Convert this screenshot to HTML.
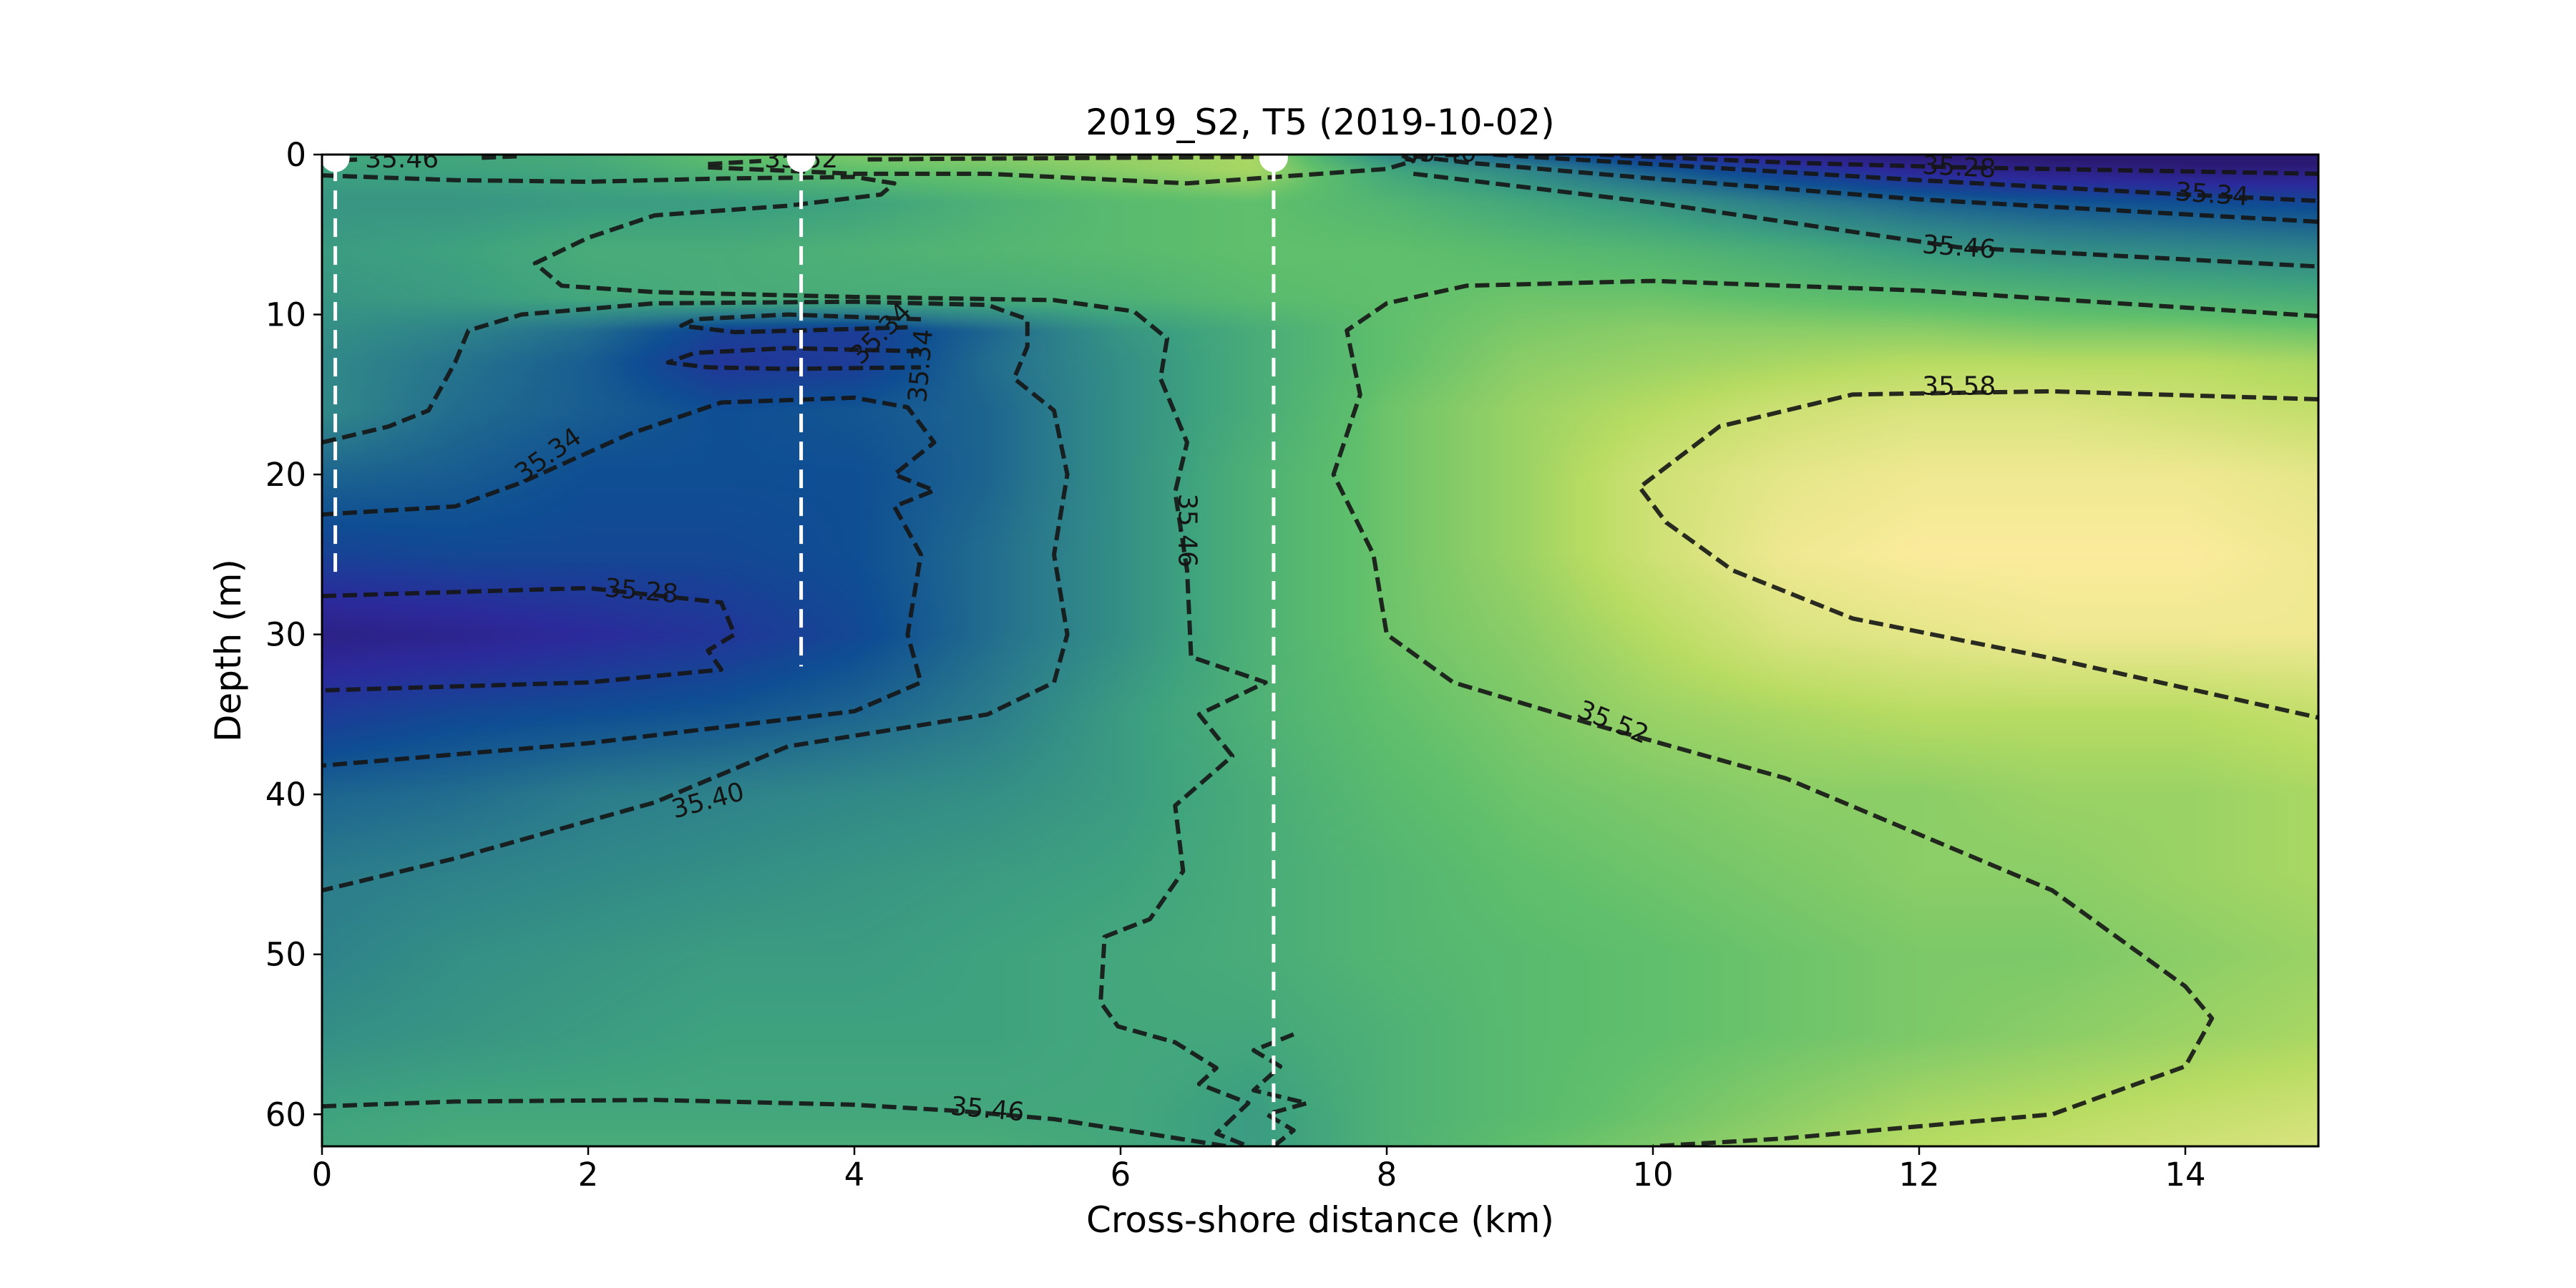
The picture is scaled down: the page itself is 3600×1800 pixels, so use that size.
<!DOCTYPE html>
<html><head><meta charset="utf-8"><style>
html,body{margin:0;padding:0;background:#fff;}
#wrap{position:relative;width:3600px;height:1800px;font-family:"DejaVu Sans","Liberation Sans",sans-serif;}
canvas{position:absolute;left:450px;top:216px;width:2790px;height:1386px;}
svg{position:absolute;left:0;top:0;}
</style></head><body>
<div id="wrap">
<canvas id="heat" width="300" height="248"></canvas>
<svg id="svg" width="3600" height="1800"></svg>
</div>
<script>
const xsKm=[0,1,2,3,4,5,6,7,8,9,10,11,12,13,14,15];
const depths=[0,1,3,6,9,11,13,16,20,25,30,35,40,45,50,55,60,62];
const salinity=[
[35.47,35.47,35.48,35.52,35.54,35.55,35.56,35.57,35.42,35.36,35.30,35.25,35.22,35.21,35.20,35.20],
[35.46,35.46,35.47,35.50,35.52,35.53,35.55,35.57,35.47,35.42,35.36,35.31,35.27,35.25,35.24,35.24],
[35.44,35.44,35.45,35.45,35.46,35.49,35.51,35.52,35.50,35.47,35.44,35.40,35.37,35.35,35.34,35.33],
[35.45,35.46,35.48,35.48,35.49,35.50,35.51,35.52,35.52,35.51,35.50,35.48,35.45,35.43,35.42,35.41],
[35.44,35.45,35.47,35.48,35.48,35.48,35.49,35.51,35.52,35.53,35.53,35.52,35.51,35.50,35.49,35.48],
[35.43,35.41,35.38,35.32,35.31,35.37,35.44,35.48,35.52,35.54,35.55,35.55,35.55,35.54,35.54,35.53],
[35.42,35.39,35.36,35.30,35.31,35.38,35.43,35.48,35.52,35.55,35.56,35.57,35.58,35.58,35.58,35.57],
[35.42,35.38,35.36,35.34,35.35,35.37,35.43,35.48,35.53,35.56,35.58,35.60,35.61,35.61,35.60,35.59],
[35.37,35.36,35.34,35.34,35.34,35.37,35.43,35.49,35.53,35.56,35.60,35.62,35.63,35.63,35.63,35.62],
[35.32,35.33,35.33,35.33,35.34,35.38,35.43,35.49,35.53,35.56,35.60,35.63,35.64,35.64,35.64,35.63],
[35.25,35.26,35.28,35.30,35.33,35.38,35.43,35.49,35.53,35.55,35.58,35.61,35.62,35.63,35.63,35.63],
[35.31,35.33,35.34,35.35,35.37,35.40,35.45,35.49,35.52,35.54,35.56,35.57,35.58,35.58,35.58,35.59],
[35.37,35.38,35.40,35.41,35.42,35.43,35.45,35.48,35.51,35.53,35.54,35.55,35.55,35.56,35.56,35.57],
[35.40,35.41,35.42,35.43,35.44,35.45,35.46,35.48,35.50,35.52,35.53,35.54,35.55,35.55,35.56,35.57],
[35.41,35.43,35.44,35.45,35.45,35.46,35.47,35.48,35.50,35.51,35.52,35.53,35.54,35.54,35.55,35.56],
[35.43,35.44,35.45,35.46,35.46,35.46,35.47,35.47,35.49,35.51,35.52,35.53,35.54,35.55,35.56,35.57],
[35.46,35.47,35.47,35.47,35.47,35.47,35.47,35.45,35.49,35.51,35.53,35.55,35.57,35.58,35.59,35.60],
[35.47,35.48,35.48,35.48,35.48,35.48,35.47,35.45,35.49,35.52,35.54,35.56,35.58,35.59,35.60,35.61]];
const xTicks=[0,2,4,6,8,10,12,14];
const yTicks=[0,10,20,30,40,50,60];
const stationX=[0.1,3.6,7.15];
const stationBottom=[26.5,32,62];
const contours=[
 {lvl:"35.46",pts:[[0,1.3],[1,1.6],[2,1.7],[3,1.5],[4,1.4],[4.3,1.8],[4.2,2.5],[3.5,3.2],[2.5,3.8],[2.0,5.2],[1.6,6.8],[1.8,8.2],[2.5,8.6],[4,8.9],[5.5,9.1],[6.1,9.8],[6.35,11.5],[6.3,14],[6.5,18],[6.41,21.1],[6.5,26],[6.53,31.4],[7.09,33],[6.59,35],[6.84,37.6],[6.41,40.7],[6.47,44.8],[6.22,47.8],[5.88,48.9],[5.85,53],[5.98,54.5],[6.41,55.5],[6.72,57.1],[6.59,58.1],[6.96,59.3],[6.72,61.2],[6.96,62]]},
 {lvl:"35.46",pts:[[0,0.4],[0.3,0.3]]},
 {lvl:"35.46",pts:[[1.2,0.2],[1.5,0.1]]},
 {lvl:"35.52",pts:[[2.9,0.8],[4,1.2],[5,1.2],[6,1.6],[6.5,1.8],[7.5,1.2],[8,0.9],[8.2,0.4],[8.1,0]]},
 {lvl:"35.52",pts:[[2.9,0.6],[3.3,0.4]]},
 {lvl:"35.52",pts:[[4.1,0.3],[5,0.25],[6,0.2],[7,0.15]]},
 {lvl:"35.28",pts:[[9.6,0],[11,0.5],[12.3,0.8],[15,1.2]]},
 {lvl:"35.34",pts:[[8.8,0],[10,0.6],[12,1.6],[14,2.5],[15,2.9]]},
 {lvl:"35.40",pts:[[8.2,0.1],[8.6,0.5],[10,1.5],[12,2.8],[15,4.2]]},
 {lvl:"35.46",pts:[[8.2,1.2],[10,3],[12.3,5.8],[15,7.0]]},
 {lvl:"35.52",pts:[[15,10.1],[12,8.5],[10,7.9],[8.6,8.2],[8.0,9.3],[7.7,11],[7.8,15],[7.6,20],[7.9,25],[8,30],[8.5,33],[9.5,35.5],[11,39],[13,46],[14,52],[14.2,54],[14,57],[13,60],[11,61.5],[10,62]]},
 {lvl:"35.58",pts:[[15,15.3],[13,14.8],[11.5,15],[10.5,17],[9.9,20.8],[10.1,23],[10.6,26],[11.5,29],[13,31.5],[15,35.2]]},
 {lvl:"35.40",pts:[[0,18],[0.5,17],[0.8,16],[1.0,13],[1.1,11],[1.5,10],[2.5,9.3],[4,9.2],[5,9.4],[5.3,10.3],[5.3,12],[5.2,14],[5.5,16],[5.6,20],[5.5,25],[5.6,30],[5.5,33],[5.0,35],[3.5,37],[2.5,40.5],[1,44],[0,46]]},
 {lvl:"35.34",pts:[[0,22.5],[1.0,22],[1.5,20.5],[2.3,17.5],[3,15.5],[4,15.2],[4.4,15.8],[4.6,18],[4.3,20],[4.6,21],[4.3,22],[4.5,25],[4.4,30],[4.5,33],[4,34.8],[2,36.8],[0,38.2]]},
 {lvl:"35.28",pts:[[0,27.6],[2,27.1],[3.0,28],[3.1,30],[2.9,31],[3.0,32.2],[2,33],[0,33.5]]},
 {lvl:"35.34",pts:[[4.5,10.3],[3.5,10.0],[2.8,10.3],[2.7,10.7],[3.1,11.1],[3.6,11.0],[4.4,10.8]]},
 {lvl:"35.34",pts:[[4.5,12.3],[3.5,12.1],[2.8,12.4],[2.6,13.0],[2.9,13.3],[3.5,13.4],[4.5,13.3]]},
 {lvl:"35.46",pts:[[0,59.5],[1,59.2],[2.5,59.1],[4,59.4],[4.8,59.8],[5.5,60.3],[6.2,61.2],[6.8,62]]},
 {lvl:"35.46",pts:[[7.15,62],[7.3,61],[7.1,60],[7.4,59.3],[7.0,58.5],[7.2,57],[7.0,56],[7.3,55]]}
];
const labels=[
 {t:"35.46",x:0.6,d:0.3,r:0},{t:"35.52",x:3.6,d:0.3,r:0},{t:"35.40",x:8.4,d:-0.1,r:0},
 {t:"35.28",x:12.3,d:0.8,r:3},{t:"35.34",x:14.2,d:2.5,r:4},{t:"35.46",x:12.3,d:5.8,r:4},
 {t:"35.58",x:12.3,d:14.5,r:0},{t:"35.52",x:9.7,d:35.5,r:22},{t:"35.34",x:1.7,d:18.8,r:-35},
 {t:"35.28",x:2.4,d:27.3,r:5},{t:"35.40",x:2.9,d:40.4,r:-15},{t:"35.46",x:6.5,d:23.5,r:90},
 {t:"35.46",x:5.0,d:59.7,r:5},{t:"35.34",x:4.2,d:11.2,r:-45},{t:"35.34",x:4.5,d:13.2,r:-85}
];
const L=450,R=3240,T=216,B=1602,XMAX=15,DMAX=62;
const sx=x=>L+(R-L)*x/XMAX, sy=d=>T+(B-T)*d/DMAX;
const cmV=[35.22,35.28,35.34,35.40,35.46,35.52,35.58,35.64];
const cmC=[[43,26,114],[44,42,156],[15,78,147],[43,124,140],[62,162,127],[95,191,108],[184,220,98],[251,235,156]];
function cmap(v){
 if(v<=cmV[0])return cmC[0]; if(v>=cmV[cmV.length-1])return cmC[cmC.length-1];
 for(let i=0;i<cmV.length-1;i++){ if(v<=cmV[i+1]){const t=(v-cmV[i])/(cmV[i+1]-cmV[i]);return cmC[i].map((c,k)=>c+(cmC[i+1][k]-c)*t);} }
}
function field(x,d){
 let i=0;while(i<xsKm.length-2&&x>xsKm[i+1])i++;
 let j=0;while(j<depths.length-2&&d>depths[j+1])j++;
 const tx=Math.min(1,Math.max(0,(x-xsKm[i])/(xsKm[i+1]-xsKm[i])));
 const ty=Math.min(1,Math.max(0,(d-depths[j])/(depths[j+1]-depths[j])));
 const a=salinity[j][i],b=salinity[j][i+1],c=salinity[j+1][i],e=salinity[j+1][i+1];
 return (a*(1-tx)+b*tx)*(1-ty)+(c*(1-tx)+e*tx)*ty;
}
const cv=document.getElementById('heat'),ctx=cv.getContext('2d');
const img=ctx.createImageData(cv.width,cv.height);
for(let py=0;py<cv.height;py++)for(let px=0;px<cv.width;px++){
 const c=cmap(field((px+0.5)/cv.width*XMAX,(py+0.5)/cv.height*DMAX));
 const o=(py*cv.width+px)*4;img.data[o]=c[0];img.data[o+1]=c[1];img.data[o+2]=c[2];img.data[o+3]=255;}
ctx.putImageData(img,0,0);
const svg=document.getElementById('svg'),NS="http://www.w3.org/2000/svg";
function mk(tag,attrs,parent){const e=document.createElementNS(NS,tag);for(const k in attrs)e.setAttribute(k,attrs[k]);(parent||svg).appendChild(e);return e;}
const clipDef=mk('defs',{});const cp=mk('clipPath',{id:'pc'},clipDef);mk('rect',{x:L,y:T,width:R-L,height:B-T},cp);
const gc=mk('g',{'clip-path':'url(#pc)'});
contours.forEach(c=>{
 const p=mk('polyline',{points:c.pts.map(q=>sx(q[0])+','+sy(q[1])).join(' '),fill:'none',stroke:'#151515','stroke-opacity':'0.9','stroke-width':6,'stroke-dasharray':'20 9','stroke-linejoin':'round'},gc);
 
 
});
labels.forEach(l=>{
 const t=mk('text',{x:sx(l.x),y:sy(l.d),'font-size':36,fill:'#151515','text-anchor':'middle','dominant-baseline':'central',transform:`rotate(${l.r} ${sx(l.x)} ${sy(l.d)})`},gc);
 t.textContent=l.t;
 
 
});
stationX.forEach((x,i)=>{
 const ln=mk('line',{x1:sx(x),x2:sx(x),y1:sy(0.5),y2:sy(stationBottom[i]),stroke:'#fff','stroke-width':5,'stroke-dasharray':'26 13'},gc);
 
 
 const c=mk('ellipse',{cx:sx(x),cy:sy(0.2),rx:20,ry:20,fill:'#fff'},gc);
 
 
});
const frame=mk('rect',{x:L,y:T,width:R-L,height:B-T,fill:'none',stroke:'#000','stroke-width':3});


xTicks.forEach(v=>{
 const tk=mk('line',{x1:sx(v),x2:sx(v),y1:B,y2:B+12,stroke:'#000','stroke-width':2.5});
 
 
 const t=mk('text',{x:sx(v),y:B+55,'font-size':45,'text-anchor':'middle'});t.textContent=v;
 
 
});
yTicks.forEach(v=>{
 const tk=mk('line',{x1:L-12,x2:L,y1:sy(v),y2:sy(v),stroke:'#000','stroke-width':2.5});
 
 
 const t=mk('text',{x:L-22,y:sy(v)+16,'font-size':45,'text-anchor':'end'});t.textContent=v;
 
 
});
const title=mk('text',{x:(L+R)/2,y:188,'font-size':50,'text-anchor':'middle'});title.textContent="2019_S2, T5 (2019-10-02)";


const xl=mk('text',{x:(L+R)/2,y:1722,'font-size':50,'text-anchor':'middle'});xl.textContent="Cross-shore distance (km)";


const yl=mk('text',{x:336,y:(T+B)/2,'font-size':50,'text-anchor':'middle',transform:`rotate(-90 336 ${(T+B)/2})`});yl.textContent="Depth (m)";


</script>
</body></html>
